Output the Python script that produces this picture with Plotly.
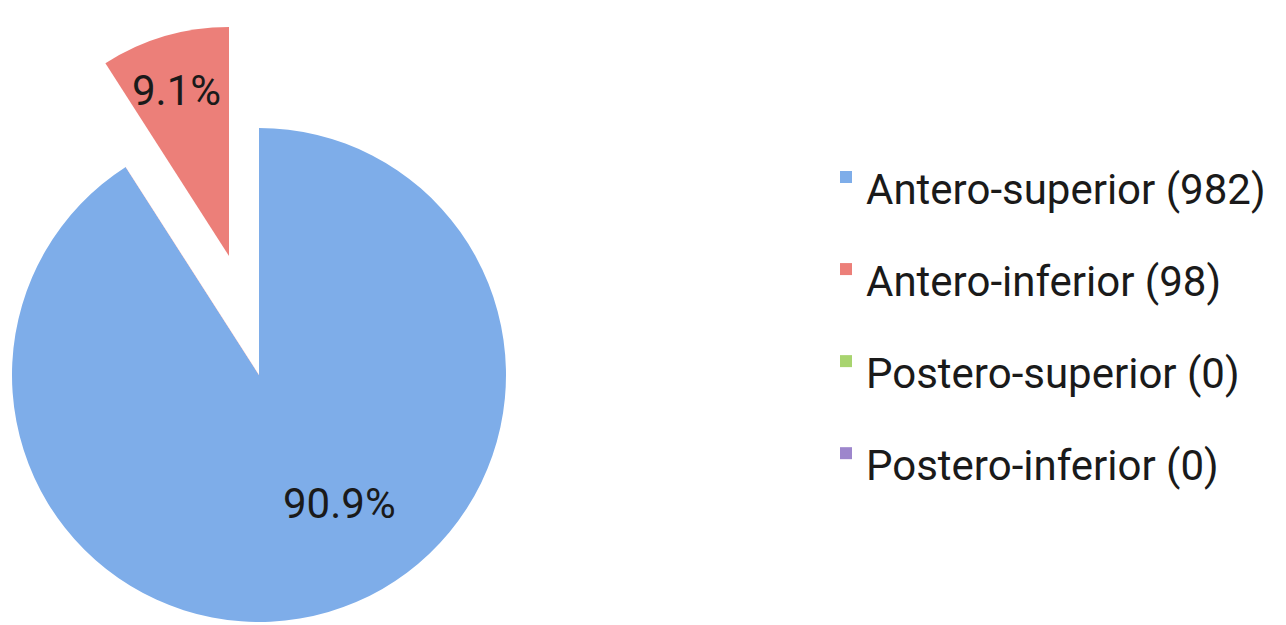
import plotly.graph_objects as go

categories = ["Antero-superior", "Antero-inferior", "Postero-superior", "Postero-inferior"]
counts = [982, 98, 0, 0]
colors = ["#7EADE9", "#EC7F79", "#A8D46F", "#9D86CC"]

W, H = 1286, 625
total = sum(counts)
labels = [f"{c} ({n})" for c, n in zip(categories, counts)]
legend_labels = [f'<span style="font-size:42px">{l}</span>' for l in labels]
pcts = [f"{n / total * 100:.1f}%" for n in counts]

TRANSPARENT = "rgba(0,0,0,0)"


def px_domain(cx, cy, r):
    return dict(x=[(cx - r) / W, (cx + r) / W], y=[1 - (cy + r) / H, 1 - (cy - r) / H])


common = dict(labels=legend_labels, values=counts, sort=False, direction="clockwise",
              rotation=0, textinfo="none")

fig = go.Figure()
# main pie (carries the legend)
fig.add_trace(go.Pie(**common, domain=px_domain(259, 375, 247),
                     marker=dict(colors=colors, line=dict(width=0)),
                     showlegend=True, hoverinfo="label+percent"))
# white cover for the exploded slice's original place
cover_cols = [TRANSPARENT, "white", TRANSPARENT, TRANSPARENT]
fig.add_trace(go.Pie(**common, domain=px_domain(259, 375, 248),
                     marker=dict(colors=cover_cols, line=dict(width=0)),
                     showlegend=False, hoverinfo="skip"))
# exploded slice
red_cols = [TRANSPARENT, colors[1], TRANSPARENT, TRANSPARENT]
fig.add_trace(go.Pie(**common, domain=px_domain(229, 256, 229),
                     marker=dict(colors=red_cols, line=dict(width=0)),
                     showlegend=False, hoverinfo="skip"))

label_font = dict(family="Roboto", size=42, color="#1a1a1a")
fig.add_annotation(x=340 / W, y=1 - 503 / H, xref="paper", yref="paper", text=pcts[0],
                   xanchor="center", yanchor="middle", showarrow=False, font=label_font)
fig.add_annotation(x=176 / W, y=1 - 90 / H, xref="paper", yref="paper", text=pcts[1],
                   xanchor="center", yanchor="middle", showarrow=False, font=label_font)

fig.update_layout(
    width=W, height=H,
    margin=dict(l=0, r=0, t=0, b=0),
    paper_bgcolor="white", plot_bgcolor="white",
    font=dict(family="Roboto", color="#1a1a1a"),
    legend=dict(x=826 / W, xanchor="left", y=1 - 126 / H, yanchor="top",
                font=dict(family="Roboto", size=68.5, color="#1a1a1a"),
                bgcolor="rgba(0,0,0,0)", traceorder="normal"),
)

fig.write_html("out.html", config={"displayModeBar": False},
               post_script="document.body.style.margin='0';")
